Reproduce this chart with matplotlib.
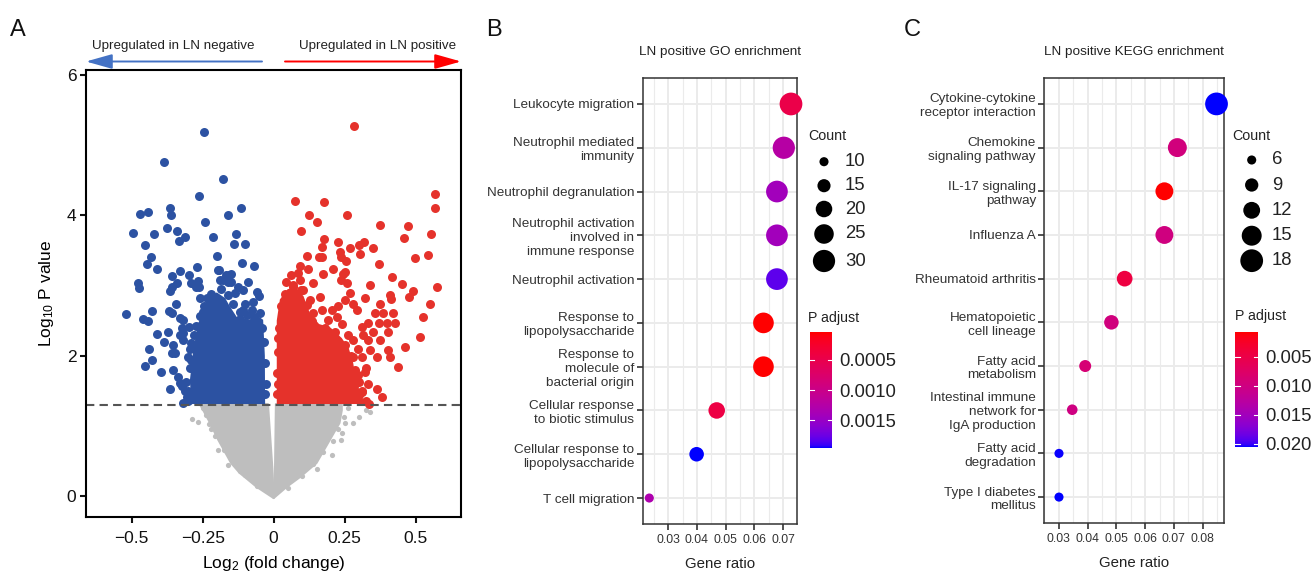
import numpy as np
import matplotlib
matplotlib.use('Agg')
import matplotlib.pyplot as plt
from matplotlib.colors import LinearSegmentedColormap, Normalize
from matplotlib.cm import ScalarMappable

plt.rcParams['font.family'] = ['Liberation Sans', 'DejaVu Sans']
plt.rcParams['mathtext.fontset'] = 'custom'
plt.rcParams['mathtext.rm'] = 'Liberation Sans'
plt.rcParams['mathtext.default'] = 'regular'

# ---- panel A: volcano (sparse points, dense cores as envelopes)
blue_x = [-0.244, -0.386, -0.178, -0.264, -0.365, -0.115, -0.472, -0.444, -0.363, -0.162, -0.241, -0.494,
          -0.420, -0.376, -0.342, -0.313, -0.335, -0.213, -0.132, -0.453, -0.140, -0.101, -0.432, -0.200,
          -0.446, -0.411, -0.111, -0.069, -0.270, -0.193, -0.358, -0.329, -0.299, -0.150, -0.168,
          -0.479, -0.473, -0.342, -0.291, -0.263, -0.259, -0.189, -0.177, -0.156, -0.162, -0.359, -0.365,
          -0.268, -0.274, -0.520, -0.430, -0.459, -0.444, -0.368, -0.345, -0.330, -0.318, -0.359, -0.297,
          -0.324, -0.412, -0.371, -0.385, -0.353, -0.357, -0.439, -0.427, -0.452, -0.396, -0.356, -0.365,
          -0.330, -0.324, -0.312, -0.306, -0.289, -0.320, -0.320, -0.295, -0.292, -0.330, -0.348, -0.336,
          -0.125, -0.107, -0.136, -0.101, -0.072, -0.060, -0.077, -0.107, -0.236, -0.195, -0.151, -0.090,
          -0.050, -0.300, -0.320,
          # edge of the dense cloud
          -0.300, -0.310, -0.295, -0.302, -0.290, -0.280, -0.272, -0.258, -0.245, -0.222, -0.185,
          -0.160, -0.142, -0.118, -0.095, -0.070, -0.048, -0.040, -0.034, -0.030, -0.028, -0.032,
          -0.215, -0.250, -0.120, -0.080]
blue_y = [5.18, 4.76, 4.51, 4.28, 4.11, 4.11, 4.02, 4.05, 4.01, 4.00, 3.90, 3.75,
          3.74, 3.82, 3.78, 3.69, 3.64, 3.69, 3.74, 3.58, 3.59, 3.59, 3.41, 3.42,
          3.30, 3.24, 3.32, 3.27, 3.26, 3.22, 3.14, 3.20, 3.15, 3.17, 3.15,
          3.04, 2.97, 3.03, 3.04, 2.98, 2.82, 3.08, 3.08, 3.15, 3.05, 2.98, 2.92,
          3.07, 2.98, 2.59, 2.64, 2.52, 2.50, 2.64, 2.74, 2.53, 2.51, 2.60, 2.41,
          2.40, 2.31, 2.33, 2.20, 2.15, 2.03, 2.10, 1.94, 1.85, 1.77, 1.80, 1.53,
          1.61, 1.56, 1.49, 1.41, 1.41, 2.32, 2.22, 2.09, 1.94, 2.29, 2.03, 1.70,
          2.98, 2.93, 2.89, 2.74, 2.77, 2.91, 2.65, 2.65, 2.82, 3.22, 3.05, 3.05,
          2.85, 1.35, 1.33,
          1.50, 1.62, 1.82, 1.98, 2.18, 2.30, 2.42, 2.56, 2.70, 2.88, 2.95,
          2.86, 2.74, 2.62, 2.58, 2.55, 2.60, 2.40, 2.20, 1.90, 1.60, 1.45,
          2.80, 2.62, 2.52, 2.47]

red_x = [0.283, 0.075, 0.177, 0.570, 0.568, 0.125, 0.260, 0.152, 0.096, 0.374, 0.473, 0.460,
         0.554, 0.178, 0.172, 0.228, 0.269, 0.301, 0.318, 0.350, 0.233, 0.239, 0.304, 0.117,
         0.161, 0.172, 0.255, 0.497, 0.543, 0.372, 0.093, 0.122, 0.087, 0.210, 0.175, 0.251,
         0.418, 0.574, 0.492, 0.451, 0.339, 0.321, 0.410, 0.412, 0.477, 0.550, 0.525, 0.515,
         0.462, 0.439, 0.374, 0.386, 0.421, 0.357, 0.372, 0.398, 0.427, 0.333, 0.310, 0.351,
         0.404, 0.316, 0.333, 0.374, 0.339, 0.363, 0.310, 0.404, 0.410, 0.327, 0.333, 0.363,
         0.380, 0.301, 0.310, 0.337, 0.280, 0.298, 0.321, 0.269, 0.286, 0.298, 0.280, 0.263,
         0.280, 0.257, 0.069, 0.093, 0.104, 0.139, 0.245, 0.239, 0.257, 0.269, 0.251, 0.228,
         0.204, 0.280, 0.292, 0.163, 0.128, 0.192, 0.222, 0.045, 0.060, 0.140, 0.170, 0.240,
         # edge of the dense cloud
         0.012, 0.013, 0.015, 0.018, 0.026, 0.040, 0.068, 0.098, 0.118, 0.135, 0.180, 0.215,
         0.250, 0.272, 0.288, 0.300, 0.312, 0.325, 0.016, 0.014]
red_y = [5.27, 4.20, 4.19, 4.30, 4.11, 4.00, 4.00, 3.90, 3.77, 3.86, 3.85, 3.68,
         3.74, 3.66, 3.55, 3.62, 3.54, 3.58, 3.62, 3.54, 3.47, 3.41, 3.45, 3.42,
         3.41, 3.41, 3.35, 3.39, 3.43, 3.31, 3.27, 3.24, 3.18, 3.24, 3.17, 3.19,
         3.12, 2.98, 2.92, 3.02, 3.01, 2.82, 2.86, 2.80, 2.84, 2.73, 2.55, 2.27,
         2.12, 1.84, 2.74, 2.60, 2.60, 2.60, 2.46, 2.46, 2.46, 2.46, 2.41, 2.34,
         2.33, 2.29, 2.22, 2.22, 2.08, 1.98, 1.98, 2.08, 1.98, 1.82, 1.60, 1.53,
         1.41, 1.44, 1.49, 1.31, 1.70, 1.72, 1.77, 1.56, 1.60, 2.10, 2.22, 2.29,
         1.98, 1.84, 3.01, 3.08, 2.93, 3.03, 3.17, 3.08, 3.03, 2.89, 2.79, 2.70,
         2.65, 2.74, 2.65, 2.84, 2.79, 2.51, 2.55, 3.05, 3.15, 2.60, 2.65, 2.45,
         1.45, 1.75, 2.05, 2.40, 2.70, 2.88, 2.98, 2.93, 2.72, 2.50, 2.40, 2.33,
         2.15, 2.00, 1.80, 1.62, 1.48, 1.36, 2.25, 1.60]

gray_x = [-0.289, -0.265, -0.195, -0.160, -0.119, 0.251, 0.280, 0.240, 0.204, 0.151, 0.339, 0.327,
          0.236, 0.300, -0.240, -0.220, -0.250, -0.228, -0.205, -0.175, -0.140, -0.100, -0.060,
          0.050, 0.100, 0.140, 0.175, 0.210, 0.228, 0.248, 0.262]
gray_y = [1.09, 1.06, 0.66, 0.44, 0.35, 1.04, 1.04, 0.89, 0.58, 0.39, 1.20, 1.22,
          0.80, 1.12, 1.15, 0.95, 1.25, 1.02, 0.85, 0.66, 0.48, 0.30, 0.14,
          0.12, 0.28, 0.46, 0.62, 0.78, 0.96, 1.12, 1.26]

# envelopes of the solid clouds
blue_core_x = [-0.29, -0.295, -0.283, -0.266, -0.25, -0.236, -0.2, -0.171, -0.154, -0.13, -0.083, -0.06, -0.037, -0.031, -0.03]
blue_core_y = [1.31, 1.65, 2.08, 2.46, 2.6, 2.82, 2.9, 2.82, 2.7, 2.55, 2.51, 2.58, 2.51, 2.0, 1.31]
red_core_x = [0.011, 0.011, 0.022, 0.05, 0.08, 0.105, 0.128, 0.16, 0.2, 0.24, 0.265, 0.28, 0.29, 0.31, 0.322]
red_core_y = [1.31, 2.5, 2.8, 2.95, 2.95, 2.85, 2.6, 2.45, 2.4, 2.25, 2.1, 1.9, 1.65, 1.42, 1.31]
gray_left_x = [0.0, -0.06, -0.12, -0.15, -0.195, -0.225, -0.245, -0.26, -0.02, -0.005, 0.0]
gray_left_y = [-0.03, 0.13, 0.33, 0.47, 0.80, 1.05, 1.2, 1.31, 1.31, 0.42, -0.03]
gray_right_x = [0.0, 0.005, 0.008, 0.24, 0.24, 0.232, 0.198, 0.151, 0.093, 0.046, 0.0]
gray_right_y = [-0.03, 0.42, 1.31, 1.31, 1.22, 1.04, 0.80, 0.47, 0.27, 0.13, -0.03]
p_cut = -np.log10(0.05)

vx_ticks = [-0.5, -0.25, 0, 0.25, 0.5]
vx_labels = ['\u22120.5', '\u22120.25', '0', '0.25', '0.5']
vy_ticks = [0, 2, 4, 6]

# ---- panel B: GO enrichment
go_terms = ['Leukocyte migration', 'Neutrophil mediated\nimmunity', 'Neutrophil degranulation',
            'Neutrophil activation\ninvolved in\nimmune response', 'Neutrophil activation',
            'Response to\nlipopolysaccharide', 'Response to\nmolecule of\nbacterial origin',
            'Cellular response\nto biotic stimulus', 'Cellular response to\nlipopolysaccharide',
            'T cell migration']
go_ratio = [0.0728, 0.0703, 0.0679, 0.0679, 0.0679, 0.0632, 0.0632, 0.0469, 0.0399, 0.0234]
go_count = [31, 30, 29, 29, 29, 27, 27, 20, 17, 10]
go_padj = [0.00047, 0.00123, 0.00142, 0.00142, 0.00181, 0.000043, 0.00005, 0.00043, 0.00196, 0.00131]
go_count_breaks = [10, 15, 20, 25, 30]
go_padj_breaks = [0.0005, 0.0010, 0.0015]
go_padj_labels = ['0.0005', '0.0010', '0.0015']
go_x_ticks = [0.03, 0.04, 0.05, 0.06, 0.07]

# ---- panel C: KEGG enrichment
kegg_terms = ['Cytokine-cytokine\nreceptor interaction', 'Chemokine\nsignaling pathway',
              'IL-17 signaling\npathway', 'Influenza A', 'Rheumatoid arthritis',
              'Hematopoietic\ncell lineage', 'Fatty acid\nmetabolism',
              'Intestinal immune\nnetwork for\nIgA production', 'Fatty acid\ndegradation',
              'Type I diabetes\nmellitus']
kegg_ratio = [0.0848, 0.0712, 0.0667, 0.0667, 0.0529, 0.0483, 0.0392, 0.0347, 0.0301, 0.0301]
kegg_count = [18, 14, 13, 13, 11, 10, 8, 7, 6, 6]
kegg_padj = [0.0206, 0.0095, 0.0007, 0.0098, 0.0045, 0.0097, 0.0088, 0.0100, 0.0205, 0.0206]
kegg_count_breaks = [6, 9, 12, 15, 18]
kegg_padj_breaks = [0.005, 0.010, 0.015, 0.020]
kegg_padj_labels = ['0.005', '0.010', '0.015', '0.020']
kegg_x_ticks = [0.03, 0.04, 0.05, 0.06, 0.07, 0.08]


def to_lab(rgb):
    c = np.array(rgb, float)
    lin = np.where(c <= 0.04045, c / 12.92, ((c + 0.055) / 1.055) ** 2.4)
    M = np.array([[0.4124, 0.3576, 0.1805], [0.2126, 0.7152, 0.0722], [0.0193, 0.1192, 0.9505]])
    xyz = M @ lin / np.array([0.95047, 1.0, 1.08883])
    f = np.where(xyz > 0.008856, np.cbrt(xyz), 7.787 * xyz + 16 / 116)
    return np.array([116 * f[1] - 16, 500 * (f[0] - f[1]), 200 * (f[1] - f[2])])


def from_lab(lab):
    fy = (lab[0] + 16) / 116
    f = np.array([fy + lab[1] / 500, fy, fy - lab[2] / 200])
    xyz = np.where(f > 0.2069, f ** 3, (f - 16 / 116) / 7.787) * np.array([0.95047, 1.0, 1.08883])
    Minv = np.array([[3.2406, -1.5372, -0.4986], [-0.9689, 1.8758, 0.0415], [0.0557, -0.2040, 1.0570]])
    lin = np.clip(Minv @ xyz, 0, 1)
    return np.clip(np.where(lin <= 0.0031308, 12.92 * lin, 1.055 * lin ** (1 / 2.4) - 0.055), 0, 1)


# ggplot-like red -> blue gradient interpolated in Lab
lab_r, lab_b = to_lab([1, 0, 0]), to_lab([0, 0, 1])
padj_cmap = LinearSegmentedColormap.from_list(
    'padj', [from_lab(lab_r + t * (lab_b - lab_r)) for t in np.linspace(0, 1, 64)])


def dot_px(count, cmin, cmax):
    # scale_size(range = c(3, 8)) style area mapping
    s = 3 + 5 * (np.sqrt(count) - np.sqrt(cmin)) / (np.sqrt(cmax) - np.sqrt(cmin))
    return 0.96 * (2.845 * s + 0.945)


W, H = 1311, 577
fig = plt.figure(figsize=(W / 100, H / 100), dpi=100)


def box(l, t, r, b):
    return [l / W, (H - b) / H, (r - l) / W, (b - t) / H]


BLUE, RED, GRAY = '#2c52a2', '#e5322b', '#bebebe'

# ---------- A
ax = fig.add_axes(box(86, 70, 461, 517))
ax.fill(gray_left_x, gray_left_y, color=GRAY, lw=1.5, ec=GRAY, joinstyle='round')
ax.fill(gray_right_x, gray_right_y, color=GRAY, lw=1.5, ec=GRAY, joinstyle='round')
ax.scatter(gray_x, gray_y, s=14, color=GRAY, lw=0)
ax.fill(blue_core_x, blue_core_y, color=BLUE, lw=0)
ax.fill(red_core_x, red_core_y, color=RED, lw=0)
ax.scatter(blue_x, blue_y, s=42, color=BLUE, lw=0)
ax.scatter(red_x, red_y, s=42, color=RED, lw=0)
ax.axhline(p_cut, color='#555555', lw=1.5, ls=(0, (4, 2.5)))
ax.set_xlim(-0.661, 0.66)
ax.set_ylim(-0.3, 6.07)
ax.set_xticks(vx_ticks)
ax.set_xticklabels(vx_labels)
ax.set_yticks(vy_ticks)
ax.tick_params(length=4, width=1.5, labelsize=12.5, colors='#111111')
ax.tick_params(axis='x', pad=6)
ax.tick_params(axis='y', pad=3)
for sp in ax.spines.values():
    sp.set_linewidth(1.5)
ax.set_xlabel('Log$_2$ (fold change)', fontsize=12.5, labelpad=6)
ax.set_ylabel('Log$_{10}$ P value', fontsize=12.5, labelpad=8)


# ---------- B and C dot plots
def dotplot(pos, terms, ratio, count, padj, xticks, xlim, title):
    a = fig.add_axes(pos)
    n = len(terms)
    ypos = np.arange(n, 0, -1)
    cmin, cmax = min(count), max(count)
    norm = Normalize(vmin=min(padj), vmax=max(padj))
    d = dot_px(np.array(count, float), cmin, cmax) / 1.389
    a.scatter(ratio, ypos, s=d ** 2, c=padj, cmap=padj_cmap, norm=norm, lw=0, zorder=3, clip_on=False)
    a.set_xlim(*xlim)
    a.set_ylim(0.4, n + 0.6)
    a.set_xticks(xticks)
    a.set_xticklabels(['%.2f' % v for v in xticks])
    a.set_xticks([v + 0.005 for v in xticks] + [xticks[0] - 0.005], minor=True)
    a.set_yticks(ypos)
    a.set_yticklabels(terms)
    a.grid(True, which='major', color='#ebebeb', lw=1.4, zorder=0)
    a.grid(True, which='minor', axis='x', color='#ebebeb', lw=0.8, zorder=0)
    a.set_axisbelow(True)
    a.tick_params(which='major', length=4, width=1.2, color='#333333', labelsize=9.7, labelcolor='#333333', pad=2)
    a.tick_params(which='minor', length=0)
    a.tick_params(axis='x', labelsize=8.7, pad=3)
    for sp in a.spines.values():
        sp.set_color('#333333')
        sp.set_linewidth(1.1)
    a.set_xlabel('Gene ratio', fontsize=10.8, color='#222222', labelpad=8)
    a.set_title(title, fontsize=9.7, color='#222222', pad=16)
    return norm, cmin, cmax


def colorbar(pos, norm, breaks, labels):
    cax = fig.add_axes(pos)
    cb = fig.colorbar(ScalarMappable(norm=norm, cmap=padj_cmap), cax=cax)
    cb.outline.set_visible(False)
    cax.invert_yaxis()
    cb.set_ticks(breaks)
    cb.set_ticklabels(labels)
    cax.tick_params(axis='y', length=0, labelsize=13.3, labelcolor='#222222', pad=5)
    for b in breaks:
        cax.plot([0, 0.2], [b, b], color='white', lw=0.8)
        cax.plot([0.8, 1], [b, b], color='white', lw=0.8)
    return cb


normB, cminB, cmaxB = dotplot(box(642.7, 77.7, 797.3, 524.3), go_terms, go_ratio, go_count, go_padj,
                              go_x_ticks, (0.0211, 0.075), 'LN positive GO enrichment')
colorbar(box(810, 332.3, 832.3, 448.3), normB, go_padj_breaks, go_padj_labels)

normC, cminC, cmaxC = dotplot(box(1044.3, 77.7, 1224.3, 523.3), kegg_terms, kegg_ratio, kegg_count, kegg_padj,
                              kegg_x_ticks, (0.0275, 0.0875), 'LN positive KEGG enrichment')
colorbar(box(1235, 331.7, 1258.3, 447.3), normC, kegg_padj_breaks, kegg_padj_labels)

# ---------- overlay: letters, arrows, legends
ov = fig.add_axes([0, 0, 1, 1])
ov.set_xlim(0, W)
ov.set_ylim(H, 0)
ov.axis('off')
for letter, lx in [('A', 10), ('B', 486), ('C', 904)]:
    ov.text(lx, 30, letter, fontsize=17, va='center', ha='left', color='#111111')

ov.annotate('', xy=(86, 61.5), xytext=(262, 61.5),
            arrowprops=dict(arrowstyle='-|>,head_length=1.6,head_width=0.45', color='#4472c4', lw=1.4,
                            shrinkA=0, shrinkB=0))
ov.annotate('', xy=(461, 61.5), xytext=(285, 61.5),
            arrowprops=dict(arrowstyle='-|>,head_length=1.6,head_width=0.45', color='#ff0000', lw=1.4,
                            shrinkA=0, shrinkB=0))
ov.text(173, 46, 'Upregulated in LN negative', fontsize=9.6, ha='center', va='center', color='#222222')
ov.text(378, 46, 'Upregulated in LN positive', fontsize=9.6, ha='center', va='center', color='#222222')


def count_legend(x_title, y_title, x_dot, x_lab, ys, breaks, cmin, cmax):
    ov.text(x_title, y_title, 'Count', fontsize=10.3, ha='left', va='center', color='#222222')
    d = dot_px(np.array(breaks, float), cmin, cmax) / 1.389
    ov.scatter([x_dot] * len(breaks), ys, s=d ** 2, color='black', lw=0)
    for yy, b in zip(ys, breaks):
        ov.text(x_lab, yy, str(b), fontsize=13.3, ha='left', va='center', color='#222222')


count_legend(808, 136, 824, 845, [161.7, 185.7, 209, 234, 261], go_count_breaks, cminB, cmaxB)
count_legend(1232.7, 136, 1251.7, 1272, [160, 185, 210.3, 235.7, 260.7], kegg_count_breaks, cminC, cmaxC)
ov.text(808, 318, 'P adjust', fontsize=10.2, ha='left', va='center', color='#222222')
ov.text(1235, 316, 'P adjust', fontsize=10.2, ha='left', va='center', color='#222222')

fig.savefig('out.png', dpi=100)
